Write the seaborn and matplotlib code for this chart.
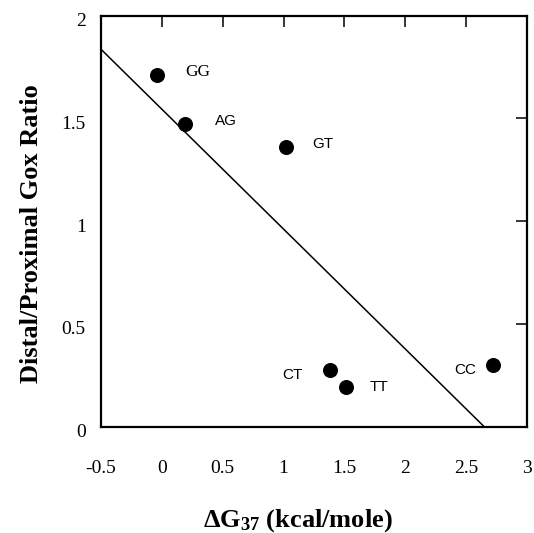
import seaborn as sns
import matplotlib.pyplot as plt
import matplotlib.transforms as mtransforms

# data
pairs = ["GG", "AG", "GT", "CT", "TT", "CC"]
delta_g = [-0.04, 0.19, 1.02, 1.38, 1.51, 2.72]
ratio = [1.71, 1.475, 1.36, 0.275, 0.195, 0.30]

x_ticks = [-0.5, 0, 0.5, 1, 1.5, 2, 2.5, 3]
x_tick_labels = ["-0.5", "0", "0.5", "1", "1.5", "2", "2.5", "3"]
y_ticks = [0, 0.5, 1, 1.5, 2]
y_tick_labels = ["0", "0.5", "1", "1.5", "2"]

sns.set_theme(style="white")
plt.rcParams["font.family"] = ["Liberation Serif", "DejaVu Serif"]
plt.rcParams["mathtext.default"] = "regular"
plt.rcParams["text.color"] = "black"
plt.rcParams["axes.labelcolor"] = "black"

fig = plt.figure(figsize=(5.34, 5.33), dpi=100)
ax = fig.add_axes([0.1891, 0.1994, 0.7978, 0.7711])

ax.set_xlim(-0.5, 3)
ax.set_ylim(0, 2)

# regression line across the whole x range (clipped at y = 0 by the axes)
sns.regplot(x=delta_g, y=ratio, ax=ax, scatter=False, ci=None, truncate=False,
            color="black", line_kws={"linewidth": 1.1})
sns.scatterplot(x=delta_g, y=ratio, ax=ax, color="black", s=117, linewidth=0,
                zorder=3, legend=False)

# point labels: (dx, dy) in pixels, alignment, font
label_style = {
    "GG": (28, 3, "left", "Liberation Serif", 12.5),
    "AG": (30, 3, "left", "Liberation Sans", 11),
    "GT": (26, 3, "left", "Liberation Sans", 11),
    "CT": (-27, -5, "right", "Liberation Sans", 11),
    "TT": (24, 0, "left", "Liberation Sans", 11),
    "CC": (-17, -5, "right", "Liberation Sans", 11),
}
for name, xv, yv in zip(pairs, delta_g, ratio):
    dx, dy, ha, fam, fs = label_style[name]
    ax.annotate(name, (xv, yv), xytext=(dx, dy), textcoords="offset pixels",
                ha=ha, va="center", fontsize=fs, family=fam, color="black")

ax.set_xticks(x_ticks)
ax.set_xticklabels(x_tick_labels, fontsize=14)
ax.set_yticks(y_ticks)
ax.set_yticklabels(y_tick_labels, fontsize=14)
ax.tick_params(axis="both", direction="in", top=True, right=True,
               length=8, width=1.1, color="black", labelcolor="black")
ax.tick_params(axis="x", pad=24)
ax.tick_params(axis="y", pad=11)

# y tick labels sit a little below their ticks in the original
shift = mtransforms.ScaledTranslation(0, -4 / 100, fig.dpi_scale_trans)
for lab in ax.get_yticklabels():
    lab.set_transform(lab.get_transform() + shift)

for sp in ax.spines.values():
    sp.set_color("black")
    sp.set_linewidth(1.6)

ax.set_xlabel(r"ΔG$_{37}$ (kcal/mole)", fontsize=19, fontweight="bold", color="black")
ax.set_ylabel("Distal/Proximal Gox Ratio", fontsize=19, fontweight="bold", color="black")
ax.xaxis.set_label_coords(0.4624, -0.1954)
ax.yaxis.set_label_coords(-0.136, 0.469)

fig.savefig("out.png", dpi=100)
